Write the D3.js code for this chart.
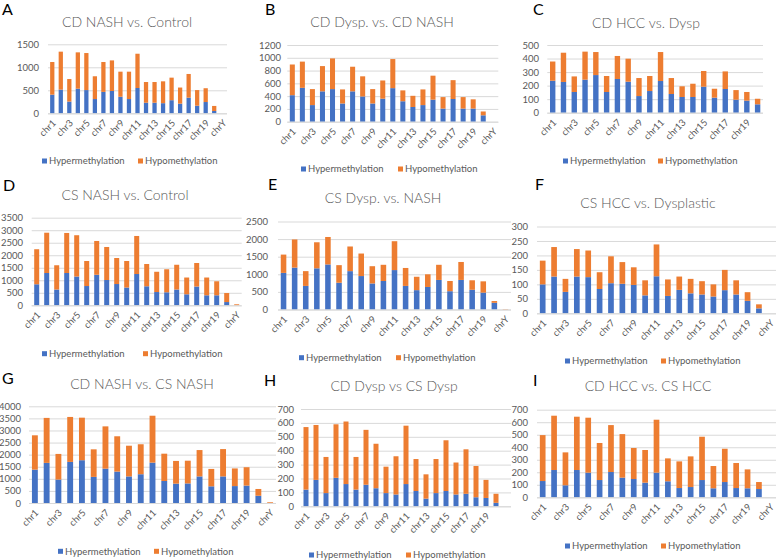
<!DOCTYPE html>
<html>
<head>
<meta charset="utf-8">
<script src="https://cdn.jsdelivr.net/npm/d3@7"></script>
<style>
  html, body { margin: 0; padding: 0; background: #fff; }
  svg { display: block; font-family: Lato, "Open Sans", sans-serif; }
</style>
</head>
<body>
<svg id="chart" width="777" height="560"></svg>
<script>
// ---------------- DATA ----------------
const chromosomes = ["chr1","chr2","chr3","chr4","chr5","chr6","chr7","chr8","chr9","chr10",
  "chr11","chr12","chr13","chr14","chr15","chr16","chr17","chr18","chr19","chrX","chrY"];
const chromosomesNoY = chromosomes.slice(0, 20);
const seriesNames = ["Hypermethylation", "Hypomethylation"];

const titles = ["CD NASH vs. Control", "CD Dysp. vs. CD NASH", "CD HCC vs. Dysp",
  "CS NASH vs. Control", "CS Dysp. vs. NASH", "CS HCC vs. Dysplastic",
  "CD NASH vs. CS NASH", "CD Dysp vs CS Dysp", "CD HCC vs. CS HCC"];
const panelLetters = ["A","B","C","D","E","F","G","H","I"];

// y-axis tick labels (max, step) per panel
const yTickMax  = [1500, 1200, 500, 3500, 2500, 300, 4000, 700, 700];
const yTickStep = [500, 200, 100, 500, 500, 50, 500, 100, 100];

// A: CD NASH vs. Control
const hyperA = [405,515,255,535,505,310,465,485,360,310,550,230,230,220,285,210,340,165,245,50,0];
const hypoA  = [710,825,490,790,805,495,650,665,545,595,745,450,450,475,490,350,515,340,300,110,0];
// B: CD Dysp. vs. CD NASH
const hyperB = [415,530,260,475,510,285,475,395,285,360,525,320,230,260,345,205,355,205,205,100,0];
const hypoB  = [480,410,250,395,480,220,385,315,225,285,455,170,175,245,375,180,295,180,145,60,0];
// C: CD HCC vs. Dysp (no chrY)
const hyperC = [236,227,153,244,278,153,249,229,123,160,234,138,116,116,192,111,175,96,89,62];
const hypoC  = [142,216,115,207,170,118,170,170,133,111,214,118,79,98,116,66,130,71,64,41];
// D: CS NASH vs. Control
const hyperD = [840,1290,630,1290,1150,770,1220,1010,850,710,1250,760,530,520,630,440,750,400,400,130,0];
const hypoD  = [1400,1610,970,1600,1650,1000,1350,1320,1040,1060,1520,890,810,920,990,670,940,710,560,360,40];
// E: CS Dysp. vs. NASH
const hyperE = [1040,1190,670,1170,1280,760,1090,950,740,810,1120,670,550,640,840,520,840,560,480,190,0];
const hypoE  = [520,800,420,740,780,500,700,640,490,460,820,510,380,360,430,290,510,270,320,50,10];
// F: CS HCC vs. Dysplastic
const hyperF = [100,127,74,127,125,84,104,102,98,62,128,60,81,69,65,58,80,65,43,17,0];
const hypoF  = [82,102,45,95,92,58,93,75,61,52,110,57,46,50,46,42,70,49,30,14,0];
// G: CD NASH vs. CS NASH
const hyperG = [1380,1660,970,1700,1770,1080,1420,1300,1100,1190,1670,910,800,810,1100,690,1100,700,720,300,0];
const hypoG  = [1420,1860,1060,1860,1760,1140,1750,1460,1270,1240,1940,1130,940,940,1090,720,1130,730,760,280,30];
// H: CD Dysp vs CS Dysp
const hyperH = [120,190,95,205,160,120,155,130,95,85,160,110,55,95,110,85,90,65,60,25,0];
const hypoH  = [450,395,260,385,450,235,395,320,190,275,420,230,175,245,365,230,320,225,130,65,0];
// I: CD HCC vs. CS HCC
const hyperI = [130,218,96,218,197,138,202,157,146,117,197,128,74,82,138,72,122,74,72,66,0];
const hypoI  = [367,434,263,426,439,296,375,348,248,261,423,183,213,245,346,178,266,200,151,56,0];

// ---------------- LAYOUT ----------------
const layout = [
  {cats: chromosomes,    hyper: hyperA, hypo: hypoA, plotL: 48,  plotR: 227, yTop: 44.3,  y0: 113.3, labelX: 39,  letter: [2, 15],   title: [127, 27],  legY: 161,   legX: [42, 138], lastLabel: true},
  {cats: chromosomes,    hyper: hyperB, hypo: hypoB, plotL: 287.3, plotR: 498.3, yTop: 45, y0: 121.7, labelX: 281, letter: [265, 15], title: [382, 27],  legY: 169,   legX: [301, 398], lastLabel: true},
  {cats: chromosomesNoY, hyper: hyperC, hypo: hypoC, plotL: 547.3, plotR: 763, yTop: 45,   y0: 112.7, labelX: 539, letter: [533, 15], title: [646, 28],  legY: 161,   legX: [563, 658], lastLabel: true},
  {cats: chromosomes,    hyper: hyperD, hypo: hypoD, plotL: 31.7, plotR: 241.7, yTop: 217.7, y0: 305.3, labelX: 23, letter: [3, 191],  title: [125, 200], legY: 353.7, legX: [42, 143], lastLabel: true},
  {cats: chromosomes,    hyper: hyperE, hypo: hypoE, plotL: 278, plotR: 511,   yTop: 221.5, y0: 309.5, labelX: 268, letter: [268, 190], title: [383, 203], legY: 357.7, legX: [299, 396], lastLabel: true},
  {cats: chromosomes,    hyper: hyperF, hypo: hypoF, plotL: 537, plotR: 776,   yTop: 226.5, y0: 313.3, labelX: 528, letter: [535, 190], title: [648, 208], legY: 361,   legX: [565, 661], lastLabel: true},
  {cats: chromosomes,    hyper: hyperG, hypo: hypoG, plotL: 29,  plotR: 276,   yTop: 406.3, y0: 503,   labelX: 21,  letter: [2, 384],   title: [142, 389], legY: 551.3, legX: [58, 154], lastLabel: true},
  {cats: chromosomes,    hyper: hyperH, hypo: hypoH, plotL: 301, plotR: 511,   yTop: 409,   y0: 506.3, labelX: 294, letter: [264, 386], title: [394, 391], legY: 555,   legX: [309, 406], lastLabel: false},
  {cats: chromosomes,    hyper: hyperI, hypo: hypoI, plotL: 537, plotR: 776,   yTop: 409.7, y0: 497.3, labelX: 528, letter: [533, 386], title: [648, 391], legY: 546,   legX: [565, 661], lastLabel: true}
];

const colors = {Hypermethylation: "#4472C4", Hypomethylation: "#ED7D31"};
const textColor = "#595959";
const gridColor = "#d9d9d9";

const svg = d3.select("#chart");

layout.forEach((p, i) => {
  const g = svg.append("g");
  const rows = p.cats.map((c, k) => ({cat: c, Hypermethylation: p.hyper[k], Hypomethylation: p.hypo[k]}));

  const x = d3.scaleBand().domain(p.cats).range([p.plotL, p.plotR]).paddingInner(0.5).paddingOuter(0.25);
  const y = d3.scaleLinear().domain([0, yTickMax[i]]).range([p.y0, p.yTop]);
  const ticks = d3.range(0, yTickMax[i] + yTickStep[i] / 2, yTickStep[i]);

  // gridlines + y labels
  const yAxis = g.append("g").attr("transform", `translate(${p.plotL},0)`)
    .call(d3.axisLeft(y).tickValues(ticks).tickSize(-(p.plotR - p.plotL)).tickPadding(p.plotL - p.labelX).tickFormat(d3.format("d")));
  yAxis.select(".domain").remove();
  yAxis.selectAll(".tick line").attr("stroke", gridColor).attr("stroke-width", 1);
  yAxis.selectAll(".tick text").attr("fill", textColor).style("font-size", "9.5px").style("font-family", "Lato, sans-serif");

  // bars
  const stacked = d3.stack().keys(seriesNames)(rows);
  g.selectAll("g.series").data(stacked).join("g")
    .attr("fill", d => colors[d.key])
    .selectAll("rect").data(d => d).join("rect")
      .attr("x", d => x(d.data.cat))
      .attr("width", x.bandwidth())
      .attr("y", d => y(d[1]))
      .attr("height", d => Math.max(0, y(d[0]) - y(d[1])));

  // x axis
  const shown = p.cats.filter((c, k) => k % 2 === 0 && (p.lastLabel || k < 20));
  const xAxis = g.append("g").attr("transform", `translate(0,${p.y0})`)
    .call(d3.axisBottom(x).tickValues(shown).tickSize(0).tickPadding(0));
  xAxis.select(".domain").attr("stroke", gridColor).attr("d", `M${p.plotL},0.5H${p.plotR}`);
  xAxis.selectAll(".tick text")
    .attr("fill", textColor).style("font-size", "9.5px").style("font-family", "Lato, sans-serif")
    .attr("x", 0).attr("y", 0).attr("dy", "0.35em")
    .attr("text-anchor", "end")
    .attr("transform", "translate(2,8) rotate(-45)");

  // title
  g.append("text").attr("x", p.title[0]).attr("y", p.title[1]).attr("text-anchor", "middle")
    .attr("fill", textColor).style("font-size", "14px").style("font-weight", "300").text(titles[i]);
  // panel letter
  g.append("text").attr("x", p.letter[0]).attr("y", p.letter[1])
    .attr("fill", "#000").style("font-size", "16px").text(panelLetters[i]);

  // legend
  seriesNames.forEach((s, k) => {
    g.append("rect").attr("x", p.legX[k]).attr("y", p.legY - 2.5).attr("width", 5).attr("height", 5).attr("fill", colors[s]);
    g.append("text").attr("x", p.legX[k] + 7).attr("y", p.legY + 3.3)
      .attr("fill", textColor).style("font-size", "9.5px").text(s);
  });
});
</script>
</body>
</html>
